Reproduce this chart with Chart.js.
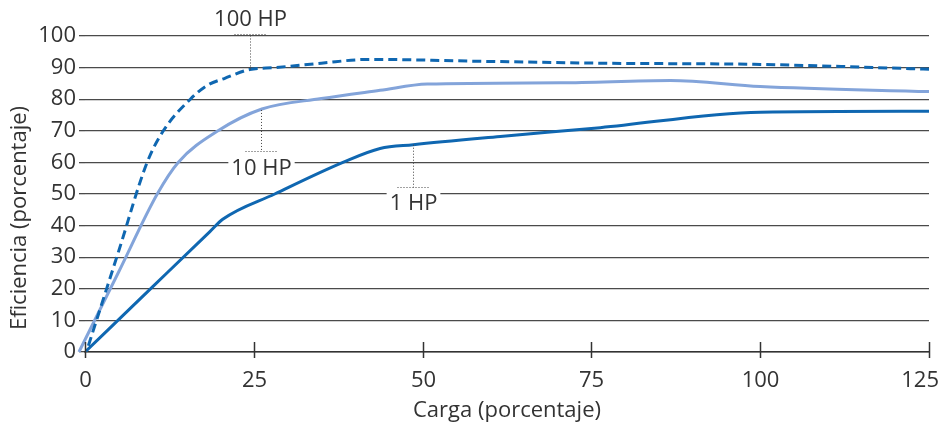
<!DOCTYPE html>
<html>
<head>
<meta charset="utf-8">
<script src="https://cdn.jsdelivr.net/npm/chart.js@4.4.1/dist/chart.umd.min.js"></script>
<style>
  html, body { margin: 0; padding: 0; background: #fff; }
  #wrap { width: 945px; height: 428px; }
</style>
</head>
<body>
<div id="wrap"><canvas id="effChart"></canvas></div>
<script>
// values
const xTicks = [0, 25, 50, 75, 100, 125];

const hp100X = [0.5, 5, 9.2, 11.6, 15.6, 18.2, 20.7, 24.4, 28.1, 35, 42, 58.5, 76, 100, 125];
const hp100Y = [2, 32, 60, 70, 80, 84.5, 86.6, 89.4, 90, 91.4, 92.6, 92, 91.4, 91, 89.5];

const hp10X = [-0.9, 5, 10.7, 13.8, 19.7, 26.2, 35, 43.7, 50.7, 70.4, 86.7, 100, 125];
const hp10Y = [0, 25.4, 50, 60, 70, 76.9, 80.2, 82.8, 84.8, 85.2, 85.9, 84, 82.4];

const hp1X = [0, 10, 18.5, 20.4, 28.1, 38.2, 43.7, 48.6, 61.5, 76.3, 100, 125];
const hp1Y = [0, 20.6, 38.1, 42, 50, 60, 64.4, 65.6, 68.2, 71, 75.9, 76.2];

// curve labels with their dotted leaders
const noteLabels = ["100 HP", "10 HP", "1 HP"];
const noteX = [24.4, 26, 48.6];
const noteLineY = [89.4, 76.6, 65.6];
const noteBarY = [100.6, 63.5, 52.3];
const noteTextY = [105, 58, 47];

const DARK_BLUE = "#0f67b1";
const LIGHT_BLUE = "#83a4da";
const TEXT = "#333333";
const FONT = "'Open Sans', sans-serif";

function toPoints(xs, ys) {
  return xs.map((x, i) => ({ x: x, y: ys[i] }));
}

const extras = {
  id: "extras",
  afterDraw(chart) {
    const ctx = chart.ctx;
    const xs = chart.scales.x;
    const ys = chart.scales.y;
    const area = chart.chartArea;

    // x tick marks crossing the axis line, and their labels
    ctx.save();
    ctx.strokeStyle = "#333";
    ctx.lineWidth = 1.5;
    ctx.font = "22px " + FONT;
    ctx.fillStyle = TEXT;
    ctx.textAlign = "center";
    ctx.textBaseline = "middle";
    xTicks.forEach((t) => {
      const px = Math.round(xs.getPixelForValue(t)) + 0.5;
      ctx.beginPath();
      ctx.moveTo(px, area.bottom - 10);
      ctx.lineTo(px, area.bottom + 6);
      ctx.stroke();
      const label = String(t);
      const w = ctx.measureText(label).width;
      const lx = Math.min(px, chart.width - 6 - w / 2);
      ctx.fillText(label, lx, area.bottom + 29);
    });
    ctx.restore();

    // annotations
    ctx.save();
    ctx.font = "22px " + FONT;
    ctx.textAlign = "center";
    ctx.textBaseline = "middle";
    noteLabels.forEach((label, i) => {
      const px = Math.round(xs.getPixelForValue(noteX[i])) + 0.5;
      const lineY = ys.getPixelForValue(noteLineY[i]);
      const barY = Math.round(ys.getPixelForValue(noteBarY[i])) + 0.5;
      const textY = ys.getPixelForValue(noteTextY[i]);

      ctx.strokeStyle = "#444";
      ctx.lineWidth = 1;
      ctx.setLineDash([1, 2]);
      ctx.beginPath();
      ctx.moveTo(px, lineY);
      ctx.lineTo(px, barY);
      ctx.moveTo(px - 16, barY);
      ctx.lineTo(px + 16, barY);
      ctx.stroke();
      ctx.setLineDash([]);

      const w = ctx.measureText(label).width;
      ctx.fillStyle = "#fff";
      ctx.fillRect(px - w / 2 - 3, textY - 11, w + 6, 22);
      ctx.fillStyle = TEXT;
      ctx.fillText(label, px, textY);
    });

    // y title
    ctx.translate(20, 218);
    ctx.rotate(-Math.PI / 2);
    ctx.fillStyle = TEXT;
    ctx.fillText("Eficiencia (porcentaje)", 0, 0);
    ctx.restore();
  },
};

new Chart(document.getElementById("effChart"), {
  type: "line",
  data: {
    datasets: [
      {
        label: "100 HP",
        data: toPoints(hp100X, hp100Y),
        borderColor: DARK_BLUE,
        borderWidth: 3,
        borderDash: [9, 5],
        cubicInterpolationMode: "monotone",
        pointRadius: 0,
        fill: false,
      },
      {
        label: "10 HP",
        data: toPoints(hp10X, hp10Y),
        borderColor: LIGHT_BLUE,
        borderWidth: 3,
        cubicInterpolationMode: "monotone",
        pointRadius: 0,
        fill: false,
        clip: false,
      },
      {
        label: "1 HP",
        data: toPoints(hp1X, hp1Y),
        borderColor: DARK_BLUE,
        borderWidth: 3,
        cubicInterpolationMode: "monotone",
        pointRadius: 0,
        fill: false,
      },
    ],
  },
  options: {
    responsive: true,
    maintainAspectRatio: false,
    animation: false,
    layout: { padding: { left: 0, right: 0, top: 36, bottom: 0 } },
    plugins: {
      legend: { display: false },
      tooltip: { enabled: false },
    },
    scales: {
      x: {
        type: "linear",
        min: 0,
        max: 125,
        afterBuildTicks: (scale) => {
          scale.ticks = xTicks.map((v) => ({ value: v }));
        },
        afterFit: (scale) => {
          scale.height = 76;
          scale.paddingRight = 16;
          scale.paddingLeft = 0;
        },
        grid: { display: false, drawTicks: false },
        border: { display: true, color: "#333", width: 1.5 },
        ticks: { display: false },
        title: {
          display: true,
          text: "Carga (porcentaje)",
          color: TEXT,
          font: { family: FONT, size: 22 },
          padding: { top: 0, bottom: 4 },
        },
      },
      y: {
        min: 0,
        max: 100,
        afterFit: (scale) => {
          scale.width = 85;
        },
        ticks: {
          stepSize: 10,
          color: TEXT,
          font: { family: FONT, size: 22 },
          padding: 3,
        },
        grid: {
          color: "#4a4a4a",
          lineWidth: 1.3,
          drawTicks: true,
          tickLength: 6,
        },
        border: { display: false },
      },
    },
  },
  plugins: [extras],
});
</script>
</body>
</html>
